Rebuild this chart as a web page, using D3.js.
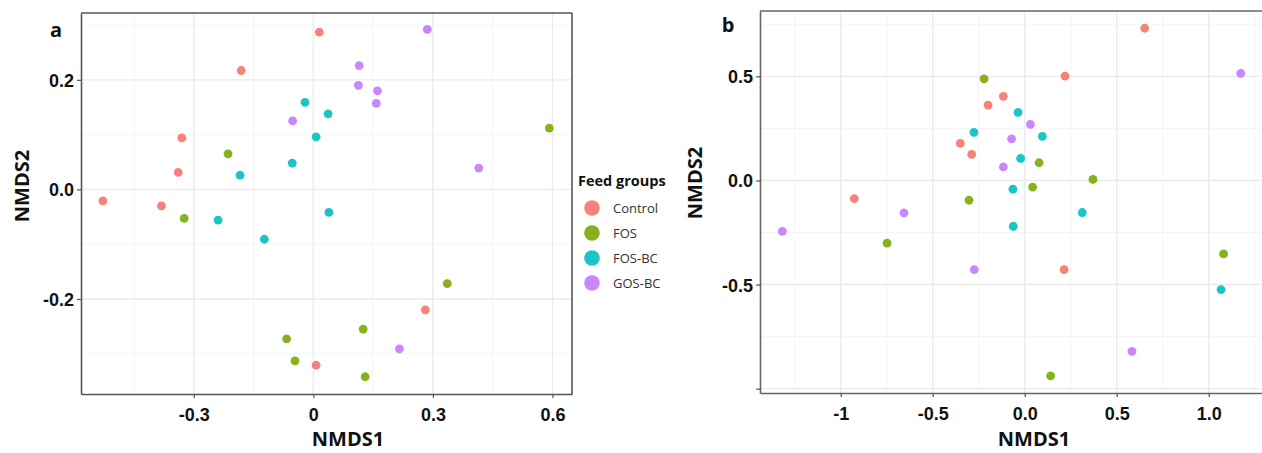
<!DOCTYPE html>
<html>
<head>
<meta charset="utf-8">
<script src="https://cdn.jsdelivr.net/npm/d3@7"></script>
<style>
  body { margin: 0; background: #fff; }
  svg { font-family: "Open Sans", sans-serif; }
</style>
</head>
<body>
<svg width="1262" height="453"></svg>
<script>
// Groups and colours
const groups = ["Control", "FOS", "FOS-BC", "GOS-BC"];
const colors = ["#F6837A", "#86B21E", "#1CC4C8", "#CB86FC"];

// Panel a points [NMDS1, NMDS2]
const aControl = [[-0.528, -0.021], [-0.381, -0.030], [-0.339, 0.031], [-0.330, 0.094],
  [-0.181, 0.217], [0.015, 0.287], [0.007, -0.321], [0.281, -0.220]];
const aFOS = [[-0.214, 0.065], [-0.324, -0.053], [0.592, 0.112], [0.336, -0.172],
  [0.125, -0.255], [0.130, -0.342], [-0.067, -0.273], [-0.046, -0.313]];
const aFOSBC = [[-0.021, 0.159], [0.007, 0.096], [-0.053, 0.048], [-0.184, 0.026],
  [-0.239, -0.056], [-0.123, -0.091], [0.037, 0.138], [0.039, -0.042]];
const aGOSBC = [[-0.052, 0.125], [0.286, 0.292], [0.115, 0.226], [0.113, 0.190],
  [0.161, 0.180], [0.158, 0.157], [0.415, 0.039], [0.216, -0.291]];

// Panel b points [NMDS1, NMDS2]
const bControl = [[0.652, 0.731], [0.219, 0.501], [-0.116, 0.404], [-0.199, 0.362],
  [-0.350, 0.178], [-0.288, 0.125], [-0.926, -0.087], [0.214, -0.428]];
const bFOS = [[-0.221, 0.488], [0.078, 0.085], [0.043, -0.032], [0.371, 0.005],
  [-0.303, -0.095], [-0.748, -0.301], [1.081, -0.353], [0.141, -0.939]];
const bFOSBC = [[-0.276, 0.231], [-0.036, 0.327], [0.096, 0.212], [-0.022, 0.106],
  [-0.064, -0.042], [0.313, -0.154], [-0.062, -0.220], [1.067, -0.524]];
const bGOSBC = [[1.174, 0.514], [0.031, 0.269], [-0.071, 0.200], [-0.116, 0.065],
  [-0.656, -0.156], [-1.317, -0.245], [-0.274, -0.428], [0.583, -0.821]];

// Ticks
const aXTicks = [-0.3, 0, 0.3, 0.6];
const aXLabels = ["-0.3", "0", "0.3", "0.6"];
const aXMinor = [-0.45, -0.15, 0.15, 0.45];
const aYTicks = [-0.2, 0, 0.2];
const aYLabels = ["-0.2", "0.0", "0.2"];
const aYMinor = [-0.3, -0.1, 0.1, 0.3];

const bXTicks = [-1, -0.5, 0, 0.5, 1];
const bXLabels = ["-1", "-0.5", "0.0", "0.5", "1.0"];
const bXMinor = [-1.25, -0.75, -0.25, 0.25, 0.75, 1.25];
const bYTicks = [-1, -0.5, 0, 0.5];
const bYLabels = ["", "-0.5", "0.0", "0.5"];
const bYMinor = [-0.75, -0.25, 0.25, 0.75];

const svg = d3.select("svg");

function panel(opt) {
  const x = d3.scaleLinear().domain(opt.xDomain).range([opt.left, opt.right]);
  const y = d3.scaleLinear().domain(opt.yDomain).range([opt.bottom, opt.top]);
  const g = svg.append("g");

  // grid
  g.selectAll(".xminor").data(opt.xMinor).join("line")
    .attr("x1", d => x(d)).attr("x2", d => x(d))
    .attr("y1", opt.top).attr("y2", opt.bottom)
    .attr("stroke", "#F2F2F2").attr("stroke-width", 0.8);
  g.selectAll(".yminor").data(opt.yMinor).join("line")
    .attr("y1", d => y(d)).attr("y2", d => y(d))
    .attr("x1", opt.left).attr("x2", opt.right)
    .attr("stroke", "#F2F2F2").attr("stroke-width", 0.8);
  g.selectAll(".xmajor").data(opt.xTicks).join("line")
    .attr("x1", d => x(d)).attr("x2", d => x(d))
    .attr("y1", opt.top).attr("y2", opt.bottom)
    .attr("stroke", "#EBEBEB").attr("stroke-width", 1.4);
  g.selectAll(".ymajor").data(opt.yTicks).join("line")
    .attr("y1", d => y(d)).attr("y2", d => y(d))
    .attr("x1", opt.left).attr("x2", opt.right)
    .attr("stroke", "#EBEBEB").attr("stroke-width", 1.4);

  // points
  opt.series.forEach((pts, i) => {
    g.selectAll(null).data(pts).join("circle")
      .attr("cx", d => x(d[0])).attr("cy", d => y(d[1]))
      .attr("r", 4.4).attr("fill", colors[i]);
  });

  // axes
  const xAxis = d3.axisBottom(x).tickValues(opt.xTicks)
    .tickFormat((d, i) => opt.xLabels[i]).tickSize(4).tickSizeOuter(0);
  const yAxis = d3.axisLeft(y).tickValues(opt.yTicks)
    .tickFormat((d, i) => opt.yLabels[i]).tickSize(4).tickSizeOuter(0);
  const gx = g.append("g").attr("transform", `translate(0,${opt.bottom})`).call(xAxis);
  const gy = g.append("g").attr("transform", `translate(${opt.left},0)`).call(yAxis);
  [gx, gy].forEach(a => {
    a.select(".domain").attr("stroke", opt.axisColor).attr("stroke-width", 1.6);
    a.selectAll(".tick line").attr("stroke", "#555").attr("stroke-width", 1.2);
    a.selectAll(".tick text").attr("fill", "#111")
      .style("font-size", "18px").style("font-weight", "bold");
  });
  gx.selectAll(".tick text").attr("dy", "1.1em");
  gy.selectAll(".tick text").attr("x", -7).attr("dy", "0.36em");

  // border
  g.append("line").attr("x1", opt.left).attr("x2", opt.right)
    .attr("y1", opt.top).attr("y2", opt.top)
    .attr("stroke", opt.axisColor).attr("stroke-width", 1.6);
  if (opt.rightBorder) {
    g.append("line").attr("x1", opt.right).attr("x2", opt.right)
      .attr("y1", opt.top).attr("y2", opt.bottom)
      .attr("stroke", opt.axisColor).attr("stroke-width", 1.6);
  }

  // titles
  g.append("text").attr("x", opt.xTitleX).attr("y", 446)
    .attr("text-anchor", "middle").style("font-size", "20px").style("font-weight", "bold")
    .attr("fill", "#111").text("NMDS1");
  g.append("text")
    .attr("transform", `translate(${opt.yTitleX},${opt.yTitleY}) rotate(-90)`)
    .attr("text-anchor", "middle").style("font-size", "20px").style("font-weight", "bold")
    .attr("fill", "#111").text("NMDS2");
  g.append("text").attr("x", opt.tagX).attr("y", opt.tagY)
    .attr("text-anchor", "middle").style("font-size", "20px").style("font-weight", "bold")
    .attr("fill", "#111").text(opt.tag);
}

panel({
  left: 81, right: 572, top: 13, bottom: 394,
  xDomain: [-0.583, 0.649], yDomain: [-0.3735, 0.322],
  xTicks: aXTicks, xLabels: aXLabels, xMinor: aXMinor,
  yTicks: aYTicks, yLabels: aYLabels, yMinor: aYMinor,
  series: [aControl, aFOS, aFOSBC, aGOSBC],
  axisColor: "#555", rightBorder: true,
  xTitleX: 348, yTitleX: 29, yTitleY: 186, tag: "a", tagX: 56, tagY: 37
});

panel({
  left: 760, right: 1262, top: 11, bottom: 393,
  xDomain: [-1.4386, 1.2897], yDomain: [-1.0208, 0.8139],
  xTicks: bXTicks, xLabels: bXLabels, xMinor: bXMinor,
  yTicks: bYTicks, yLabels: bYLabels, yMinor: bYMinor,
  series: [bControl, bFOS, bFOSBC, bGOSBC],
  axisColor: "#666", rightBorder: false,
  xTitleX: 1034, yTitleX: 702, yTitleY: 183, tag: "b", tagX: 728, tagY: 32
});

// Legend
const legend = svg.append("g").attr("transform", "translate(578,0)");
legend.append("text").attr("x", 0).attr("y", 186)
  .style("font-size", "14.5px").style("font-weight", "bold").attr("fill", "#111")
  .text("Feed groups");
legend.selectAll("circle").data(groups).join("circle")
  .attr("cx", 14).attr("cy", (d, i) => 208 + i * 25)
  .attr("r", 7.8).attr("fill", (d, i) => colors[i]);
legend.selectAll(".lab").data(groups).join("text")
  .attr("x", 35).attr("y", (d, i) => 208 + i * 25).attr("dy", "0.35em")
  .style("font-size", "13px").attr("fill", "#333").text(d => d);
</script>
</body>
</html>
